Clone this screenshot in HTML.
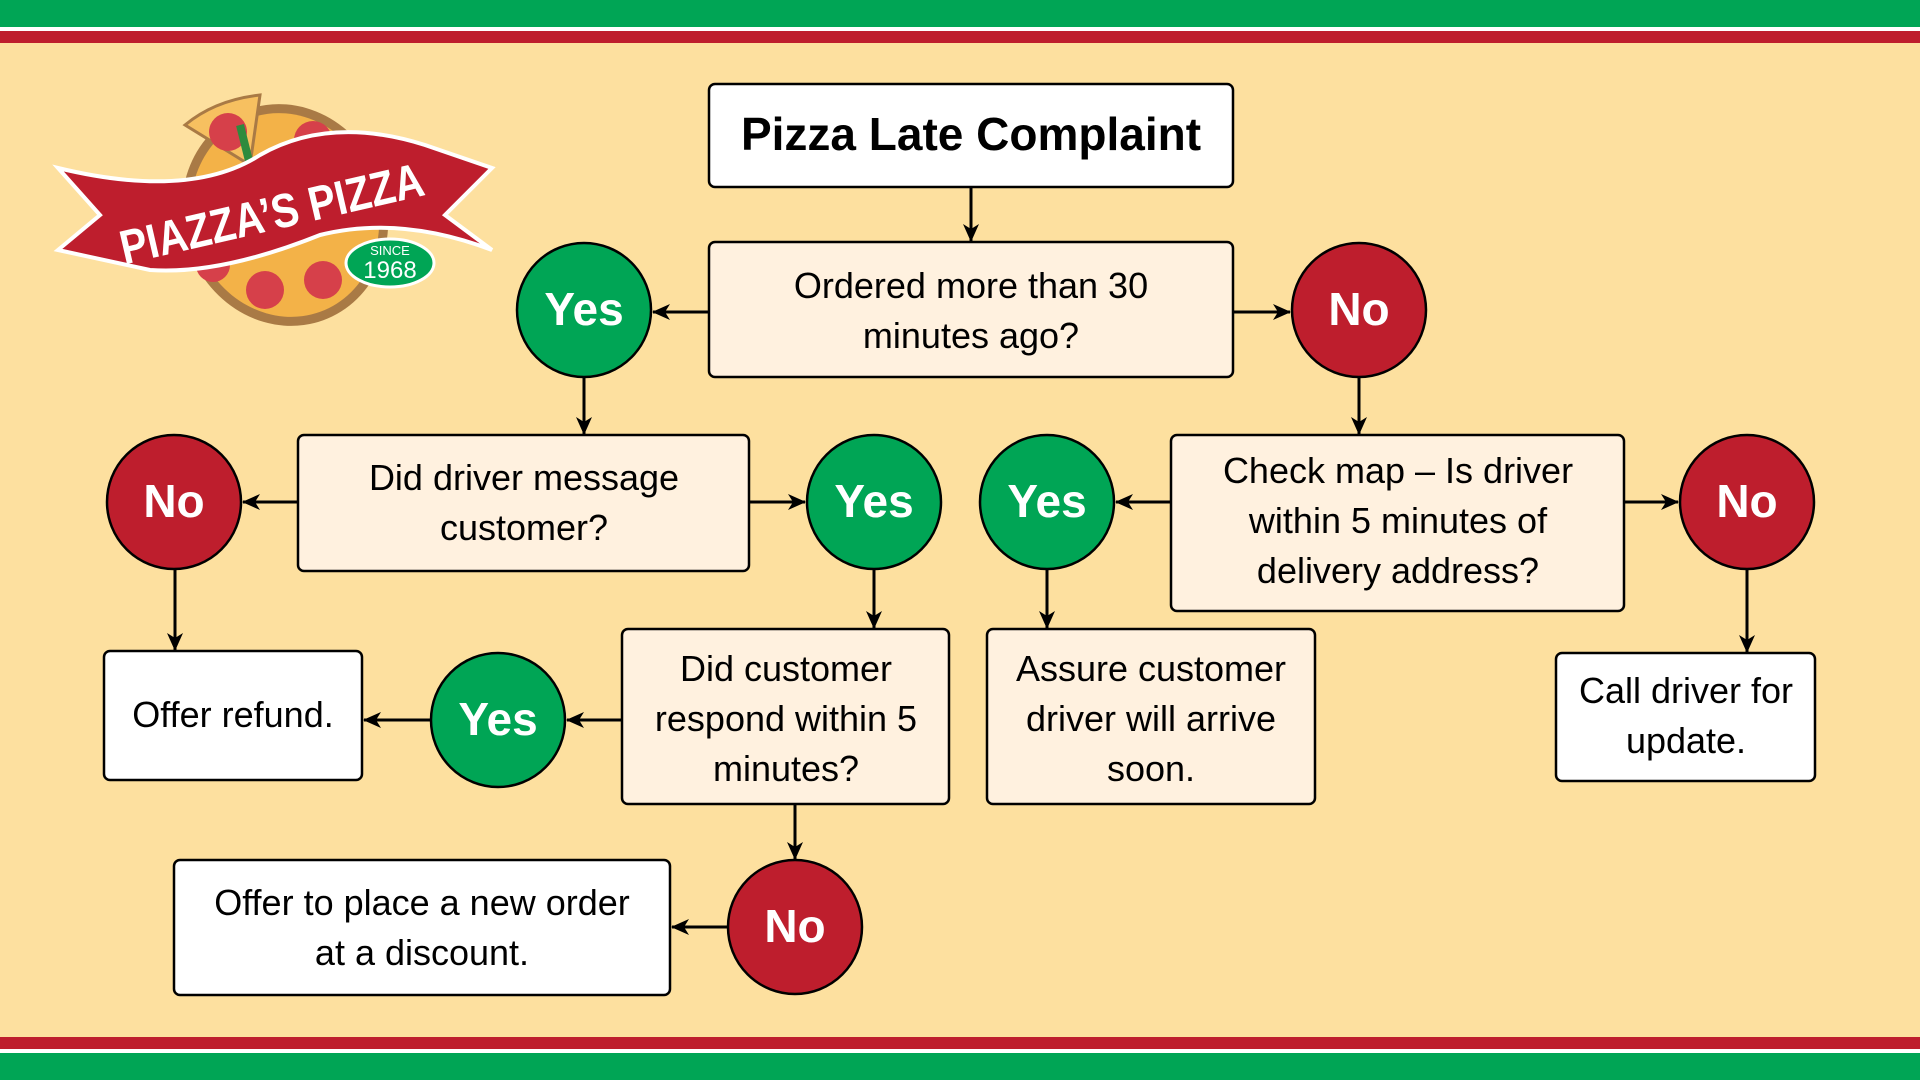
<!DOCTYPE html>
<html><head><meta charset="utf-8"><style>
html,body{margin:0;padding:0;width:1920px;height:1080px;overflow:hidden;background:#fde09f}
svg{display:block}
text{font-family:"Liberation Sans Narrow","Liberation Sans",sans-serif}
</style></head><body>
<svg width="1920" height="1080" viewBox="0 0 1920 1080" xmlns="http://www.w3.org/2000/svg">
<defs>
<marker id="a" markerWidth="18" markerHeight="16" refX="17" refY="8" orient="auto" markerUnits="userSpaceOnUse" viewBox="0 0 18 16">
<path d="M0,0 L18,8 L0,16 L5,8 z" fill="#000"/></marker>
</defs>
<rect x="0" y="0" width="1920" height="1080" fill="#fde09f"/>
<rect x="0" y="0" width="1920" height="27" fill="#00a555"/>
<rect x="0" y="27" width="1920" height="4" fill="#fff"/>
<rect x="0" y="31" width="1920" height="12" fill="#be1e2d"/>
<rect x="0" y="1037" width="1920" height="12" fill="#be1e2d"/>
<rect x="0" y="1049" width="1920" height="4" fill="#fff"/>
<rect x="0" y="1053" width="1920" height="27" fill="#00a555"/>

<!-- logo -->
<g>
<ellipse cx="285" cy="215" rx="102" ry="112" fill="#a97a45" transform="rotate(-20 285 215)"/>
<ellipse cx="285" cy="215" rx="93" ry="103" fill="#f3b248" transform="rotate(-20 285 215)"/>
<path d="M260,95 L250,165 L185,125 Q215,100 260,95z" fill="#f7c060" stroke="#a97a45" stroke-width="3"/>
<circle cx="228" cy="132" r="19" fill="#d6404a"/>
<circle cx="313" cy="140" r="19" fill="#d6404a"/>
<circle cx="265" cy="290" r="19" fill="#d6404a"/>
<circle cx="323" cy="280" r="19" fill="#d6404a"/>
<circle cx="213" cy="265" r="17" fill="#d6404a"/>
<path d="M240,125 L250,165" stroke="#2e8b3d" stroke-width="8"/>
<path d="M58,168 Q190,200 260,155 Q330,115 425,145 L492,168 L445,215 L492,250 Q400,215 320,235 Q220,275 150,270 L58,250 L100,215 z" fill="#be1e2d" stroke="#fff" stroke-width="4"/>
<text x="272" y="230" font-size="48" fill="#fff" text-anchor="middle" font-family="Liberation Serif,serif" font-weight="bold" textLength="310" lengthAdjust="spacingAndGlyphs" transform="rotate(-13 272 215)">PIAZZA’S PIZZA</text>
<ellipse cx="390" cy="263" rx="44" ry="24" fill="#00a555" stroke="#fff" stroke-width="3"/>
<text x="390" y="255" font-size="13" fill="#fff" text-anchor="middle">SINCE</text>
<text x="390" y="278" font-size="24" fill="#fff" text-anchor="middle">1968</text>
</g>

<g stroke="#000" stroke-width="3" fill="none" marker-end="url(#a)">
<line x1="971" y1="187" x2="971" y2="241"/>
<line x1="709" y1="312" x2="653" y2="312"/>
<line x1="1233" y1="312" x2="1290" y2="312"/>
<line x1="584" y1="377" x2="584" y2="434"/>
<line x1="1359" y1="377" x2="1359" y2="434"/>
<line x1="298" y1="502" x2="243" y2="502"/>
<line x1="749" y1="502" x2="805" y2="502"/>
<line x1="1171" y1="502" x2="1116" y2="502"/>
<line x1="1624" y1="502" x2="1678" y2="502"/>
<line x1="175" y1="569" x2="175" y2="650"/>
<line x1="874" y1="569" x2="874" y2="628"/>
<line x1="1047" y1="569" x2="1047" y2="628"/>
<line x1="1747" y1="569" x2="1747" y2="652"/>
<line x1="622" y1="720" x2="567" y2="720"/>
<line x1="431" y1="720" x2="364" y2="720"/>
<line x1="795" y1="804" x2="795" y2="859"/>
<line x1="728" y1="927" x2="672" y2="927"/>
</g>

<g stroke="#000" stroke-width="2.5">
<rect x="709" y="84" width="524" height="103" rx="6" fill="#fff"/>
<rect x="709" y="242" width="524" height="135" rx="6" fill="#fff1df"/>
<rect x="298" y="435" width="451" height="136" rx="6" fill="#fff1df"/>
<rect x="1171" y="435" width="453" height="176" rx="6" fill="#fff1df"/>
<rect x="104" y="651" width="258" height="129" rx="6" fill="#fff"/>
<rect x="622" y="629" width="327" height="175" rx="6" fill="#fff1df"/>
<rect x="987" y="629" width="328" height="175" rx="6" fill="#fff1df"/>
<rect x="1556" y="653" width="259" height="128" rx="6" fill="#fff"/>
<rect x="174" y="860" width="496" height="135" rx="6" fill="#fff"/>
<circle cx="584" cy="310" r="67" fill="#00a555"/>
<circle cx="1359" cy="310" r="67" fill="#be1e2d"/>
<circle cx="174" cy="502" r="67" fill="#be1e2d"/>
<circle cx="874" cy="502" r="67" fill="#00a555"/>
<circle cx="1047" cy="502" r="67" fill="#00a555"/>
<circle cx="1747" cy="502" r="67" fill="#be1e2d"/>
<circle cx="498" cy="720" r="67" fill="#00a555"/>
<circle cx="795" cy="927" r="67" fill="#be1e2d"/>
</g>

<g font-size="46" font-weight="bold" fill="#fff" text-anchor="middle">
<text x="584" y="325">Yes</text>
<text x="1359" y="325">No</text>
<text x="174" y="517">No</text>
<text x="874" y="517">Yes</text>
<text x="1047" y="517">Yes</text>
<text x="1747" y="517">No</text>
<text x="498" y="735">Yes</text>
<text x="795" y="942">No</text>
</g>

<text x="971" y="150" font-size="46" font-weight="bold" text-anchor="middle" fill="#000">Pizza Late Complaint</text>
<g font-size="36" fill="#000" text-anchor="middle">
<text x="971" y="298">Ordered more than 30</text>
<text x="971" y="348">minutes ago?</text>
<text x="524" y="490">Did driver message</text>
<text x="524" y="540">customer?</text>
<text x="1398" y="483">Check map – Is driver</text>
<text x="1398" y="533">within 5 minutes of</text>
<text x="1398" y="583">delivery address?</text>
<text x="233" y="727">Offer refund.</text>
<text x="786" y="681">Did customer</text>
<text x="786" y="731">respond within 5</text>
<text x="786" y="781">minutes?</text>
<text x="1151" y="681">Assure customer</text>
<text x="1151" y="731">driver will arrive</text>
<text x="1151" y="781">soon.</text>
<text x="1686" y="703">Call driver for</text>
<text x="1686" y="753">update.</text>
<text x="422" y="915">Offer to place a new order</text>
<text x="422" y="965">at a discount.</text>
</g>
</svg>
</body></html>
